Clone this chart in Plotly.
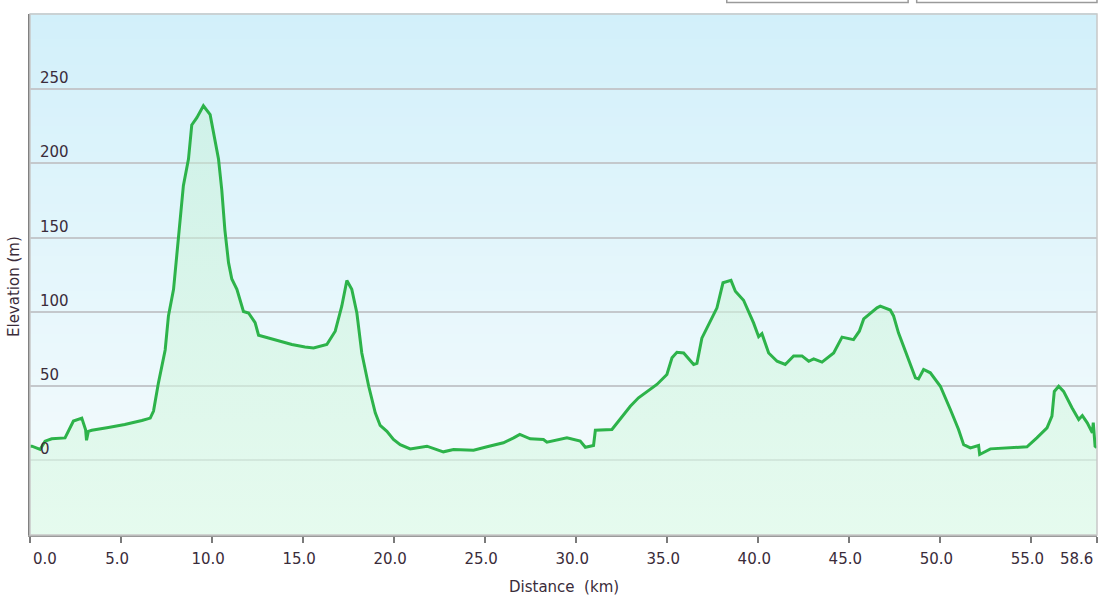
"""Elevation profile: distance (km) vs elevation (m)."""

import plotly.graph_objects as go

# distance along the route, km
distance_km = [
    0.0, 0.1, 0.55, 0.82, 1.19, 1.92, 2.38, 2.84, 3.05, 3.1, 3.2, 3.39, 4.3,
    5.2, 6.14, 6.6, 6.78, 7.05, 7.42, 7.6, 7.88, 8.15, 8.42, 8.7, 8.88, 9.16,
    9.52, 9.89, 10.07, 10.35, 10.53, 10.7, 10.9, 11.08, 11.36, 11.72, 12.0,
    12.36, 12.55, 13.46, 14.38, 15.1, 15.57, 16.3, 16.76, 17.12, 17.4, 17.67,
    17.95, 18.22, 18.6, 18.96, 19.23, 19.6, 19.96, 20.33, 20.88, 21.8, 22.7,
    23.26, 24.36, 25.1, 26.0, 26.56, 26.9, 27.47, 28.2, 28.39, 28.94, 29.49,
    30.22, 30.5, 30.95, 31.05, 31.96, 32.6, 32.97, 33.42, 34.43, 34.98, 35.26,
    35.53, 35.9, 36.45, 36.63, 36.9, 37.27, 37.73, 38.06, 38.5, 38.74, 39.19,
    39.74, 40.02, 40.2, 40.57, 41.03, 41.48, 41.94, 42.4, 42.77, 43.04, 43.5,
    44.14, 44.6, 45.23, 45.55, 45.79, 46.52, 46.7, 47.25, 47.43, 47.7, 48.17,
    48.63, 48.8, 49.08, 49.45, 50.0, 50.55, 51.0, 51.28, 51.65, 52.1, 52.16,
    52.75, 53.66, 54.76, 55.3, 55.86, 56.13, 56.26, 56.5, 56.77, 57.23, 57.6,
    57.8, 58.07, 58.35, 58.4, 58.5, 58.6,
]

# elevation, m
elevation_m = [
    9, 9, 6.8, 12.4, 14, 14.6, 26, 28, 20, 13, 19, 19.8, 21.6,
    23.6, 26.4, 28, 32.7, 51.8, 74, 97, 115, 151, 185, 203, 226, 231,
    239, 233, 221, 203, 182, 155, 133, 122, 115, 100, 99,
    92.5, 84, 81, 77.7, 76, 75.4, 77.7, 86.7, 103.6, 121, 115,
    99, 72, 49.5, 31.5, 23, 19, 13.5, 10, 7.2, 9, 5.2,
    6.8, 6.3, 8.6, 11.3, 14.6, 17, 14, 13.5, 11.7, 13, 14.6,
    12.4, 8.3, 9.5, 19.8, 20.3, 30.4, 36, 41.7, 50.7, 57.4, 68.7,
    72.5, 72, 64.2, 64.9, 82, 91, 102.5, 119.4, 121, 113.7, 107.6,
    92.3, 83, 85, 72, 66.4, 64.2, 70, 70, 66.4, 68, 65.8,
    72, 82.7, 81, 86.7, 95, 102.5, 103.6, 101, 97, 85.6, 70,
    55.2, 54.5, 60.8, 58.6, 49.5, 33.8, 20.3, 10, 7.9, 9.5, 3.4,
    7.2, 7.9, 8.6, 14.6, 21.4, 29.3, 46, 49.5, 46, 35, 27,
    29.7, 24.8, 18, 25, 9, 8,
]

x_tickvals = [0, 5, 10, 15, 20, 25, 30, 35, 40, 45, 50, 55, 58.6]
x_ticktext = ["0.0", "5.0", "10.0", "15.0", "20.0", "25.0", "30.0",
              "35.0", "40.0", "45.0", "50.0", "55.0", "58.6"]
y_tickvals = [0, 50, 100, 150, 200, 250]
y_ticktext = ["0", "50", "100", "150", "200", "250"]

Y_MIN, Y_MAX = -51, 301
X_MIN, X_MAX = 0, 58.6
TEXT = "#3a2c3a"
FONT = "DejaVu Sans"
FSIZE = 15

assert len(distance_km) == len(elevation_m)


def mix(c1, c2, t):
    return "rgb({},{},{})".format(*(round(a + (b - a) * t) for a, b in zip(c1, c2)))


fig = go.Figure()

# baseline at the bottom of the plot so the fill reaches the axis
fig.add_trace(
    go.Scatter(
        x=[distance_km[0], distance_km[-1]],
        y=[Y_MIN, Y_MIN],
        mode="lines",
        line={"width": 0},
        hoverinfo="skip",
        showlegend=False,
    ),
)

fig.add_trace(
    go.Scatter(
        x=distance_km,
        y=elevation_m,
        mode="lines",
        line={"color": "#2db34a", "width": 3},
        fill="tonexty",
        fillgradient={
            "type": "vertical",
            "colorscale": [
                [0, "rgba(222,250,232,0.7)"],
                [1, "rgba(196,240,212,0.45)"],
            ],
            "start": Y_MIN,
            "stop": max(elevation_m),
        },
        showlegend=False,
    ),
)

# sky-like gradient behind the plot area
n_bands = 60
top_col, bot_col = (210, 240, 250), (247, 252, 253)
shapes = []
for i in range(n_bands):
    shapes.append(
        {
            "type": "rect",
            "xref": "paper",
            "yref": "paper",
            "x0": 0,
            "x1": 1,
            "y0": 1 - (i + 1) / n_bands,
            "y1": 1 - i / n_bands + 0.002,
            "fillcolor": mix(top_col, bot_col, i / (n_bands - 1)),
            "line": {"width": 0},
            "layer": "below",
        },
    )

# plot frame (top and right)
shapes.append(
    {
        "type": "rect", "xref": "paper", "yref": "paper",
        "x0": 0, "x1": 1, "y0": 0, "y1": 1,
        "line": {"color": "#c8c8c8", "width": 1.5},
        "layer": "above",
    },
)

# cropped control boxes at the very top
for bx0, bx1 in [(0.653, 0.823), (0.831, 1.0)]:
    shapes.append(
        {
            "type": "rect", "xref": "paper", "yref": "paper",
            "x0": bx0, "x1": bx1, "y0": 1.022, "y1": 1.045,
            "fillcolor": "white",
            "line": {"color": "#9a9a9a", "width": 1.5},
        },
    )

tick_font = {"family": FONT, "size": FSIZE, "color": TEXT}
annotations = []

# y tick labels sit just above their grid lines, inside the plot
for val, txt in zip(y_tickvals, y_ticktext):
    annotations.append(
        {
            "text": txt, "xref": "paper", "yref": "y",
            "x": 0, "y": val, "xanchor": "left", "yanchor": "bottom",
            "xshift": 8, "yshift": 0, "showarrow": False, "font": tick_font,
        },
    )

# the first and last x labels are kept inside the plot edges
annotations.append(
    {
        "text": x_ticktext[0], "xref": "x", "yref": "paper",
        "x": x_tickvals[0], "y": 0, "xanchor": "left", "yanchor": "middle",
        "xshift": 1, "yshift": -24, "showarrow": False, "font": tick_font,
    },
)
annotations.append(
    {
        "text": x_ticktext[-1], "xref": "x", "yref": "paper",
        "x": x_tickvals[-1], "y": 0, "xanchor": "right", "yanchor": "middle",
        "xshift": -2, "yshift": -24, "showarrow": False, "font": tick_font,
    },
)
shown_ticktext = [""] + x_ticktext[1:-1] + [""]

annotations.append(
    {
        "text": "Elevation (m)", "xref": "paper", "yref": "paper",
        "x": 0, "y": 0.476, "xanchor": "center", "yanchor": "middle",
        "xshift": -16, "textangle": -90, "showarrow": False, "font": tick_font,
    },
)
annotations.append(
    {
        "text": "Distance\u00a0\u00a0(km)", "xref": "paper", "yref": "paper",
        "x": 0.5, "y": 0, "xanchor": "center", "yanchor": "middle",
        "yshift": -52, "showarrow": False, "font": tick_font,
    },
)

fig.update_layout(
    width=1103,
    height=603,
    margin={"l": 30, "r": 6, "t": 14, "b": 68},
    paper_bgcolor="white",
    plot_bgcolor="rgba(0,0,0,0)",
    font={"family": FONT, "size": FSIZE, "color": TEXT},
    shapes=shapes,
    annotations=annotations,
    showlegend=False,
    xaxis={
        "range": [X_MIN - 0.005, X_MAX + 0.005],
        "tickvals": x_tickvals,
        "ticktext": shown_ticktext,
        "ticks": "outside",
        "ticklen": 6,
        "tickwidth": 1.5,
        "tickcolor": "#7a7a7a",
        "ticklabelshift": -4,
        "ticklabelstandoff": 3,
        "showgrid": False,
        "zeroline": False,
        "showline": True,
        "linecolor": "#9a9a9a",
        "linewidth": 2,
        "tickfont": tick_font,
        "automargin": False,
    },
    yaxis={
        "range": [Y_MIN, Y_MAX],
        "tickvals": y_tickvals,
        "showticklabels": False,
        "ticks": "",
        "showgrid": True,
        "gridcolor": "#c4c8cc",
        "gridwidth": 1.5,
        "zeroline": False,
        "showline": True,
        "linecolor": "#808080",
        "linewidth": 2,
        "automargin": False,
    },
)

# drop the default page margin so the figure sits at the window corner
fig.write_html(
    "out.html",
    config={"displayModeBar": False},
    post_script="document.body.style.margin = '0';",
)
